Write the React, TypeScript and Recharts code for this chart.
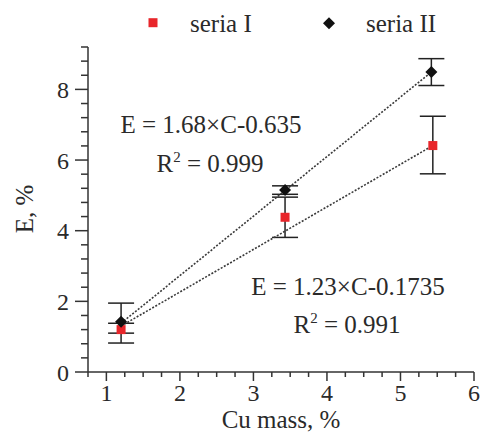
import React from 'react';
import { ScatterChart, Scatter, XAxis, YAxis, ErrorBar, Customized } from 'recharts';

// ---- data ----
const seriesI = [
  { x: 1.2, y: 1.2, err: [0.1, 0.18] },
  { x: 3.43, y: 4.38, err: [0.57, 0.57] },
  { x: 5.44, y: 6.41, err: [0.8, 0.83] },
];
const seriesII = [
  { x: 1.2, y: 1.42, err: [0.6, 0.53] },
  { x: 3.43, y: 5.15, err: [0.12, 0.12] },
  { x: 5.42, y: 8.49, err: [0.38, 0.38] },
];
const trendI = [
  { x: 1.2, y: 1.3 },
  { x: 5.44, y: 6.41 },
];
const trendII = [
  { x: 1.2, y: 1.38 },
  { x: 5.42, y: 8.49 },
];
const xTicks = [0.75, 1, 1.25, 1.5, 1.75, 2, 2.25, 2.5, 2.75, 3, 3.25, 3.5, 3.75, 4, 4.25, 4.5, 4.75, 5, 5.25, 5.5, 5.75, 6];
const xMajor = [1, 2, 3, 4, 5, 6];
const yTicks = [0, 0.4, 0.8, 1.2, 1.6, 2, 2.4, 2.8, 3.2, 3.6, 4, 4.4, 4.8, 5.2, 5.6, 6, 6.4, 6.8, 7.2, 7.6, 8, 8.4, 8.8, 9.2];
const yMajor = [0, 2, 4, 6, 8];
const legendNames = ['seria I', 'seria II'];
const fitI = ['E = 1.23×C-0.1735', '0.991'];
const fitII = ['E = 1.68×C-0.635', '0.999'];
const xTitle = 'Cu mass, %';
const yTitle = 'E, %';

const FONT = "'Liberation Serif'";
const TXT: React.CSSProperties = { fontFamily: FONT };
const INK = '#2a2a2a';
const AXIS = '#333';
const RED = '#e8262b';

const isIn = (arr: number[], v: number) => arr.some((a) => Math.abs(a - v) < 1e-6);

const XTickBottom = (props: any) => {
  const { x, y, payload } = props;
  const major = isIn(xMajor, payload.value);
  return (
    <g>
      <line x1={x} x2={x} y1={y} y2={y + (major ? 9 : 5)} stroke={AXIS} strokeWidth={1.5} />
      {major && (
        <text x={x} y={y + 29} textAnchor="middle" style={TXT} fontSize={24} fill={INK}>
          {payload.value}
        </text>
      )}
    </g>
  );
};
const XTickTop = (props: any) => {
  const { x, y, payload } = props;
  const major = isIn(xMajor, payload.value);
  return <line x1={x} x2={x} y1={y} y2={y + (major ? 8 : 5)} stroke={AXIS} strokeWidth={1.5} />;
};
const YTickLeft = (props: any) => {
  const { x, y, payload } = props;
  const major = isIn(yMajor, payload.value);
  return (
    <g>
      <line x1={x} x2={x - (major ? 13 : 7)} y1={y} y2={y} stroke={AXIS} strokeWidth={1.5} />
      {major && (
        <text x={x - 19} y={y + 8.5} textAnchor="end" style={TXT} fontSize={24} fill={INK}>
          {payload.value}
        </text>
      )}
    </g>
  );
};
const YTickRight = (props: any) => {
  const { x, y, payload } = props;
  const major = isIn(yMajor, payload.value);
  return <line x1={x} x2={x - (major ? 8 : 5)} y1={y} y2={y} stroke={AXIS} strokeWidth={1.5} />;
};

const Square = (props: any) => {
  const { cx, cy } = props;
  if (cx == null || cy == null) return <g />;
  return <rect x={cx - 4.5} y={cy - 4.5} width={9} height={9} fill={RED} />;
};
const Diamond = (props: any) => {
  const { cx, cy } = props;
  if (cx == null || cy == null) return <g />;
  const r = 6;
  return <polygon points={`${cx},${cy - r} ${cx + r},${cy} ${cx},${cy + r} ${cx - r},${cy}`} fill="#111" />;
};
const NoDot = () => <g />;

const Texts = () => (
  <g fill={INK}>
    {/* legend */}
    <rect x={148.5} y={18.2} width={9} height={9} fill={RED} />
    <text x={190} y={31.7} fontSize={25} style={TXT}>{legendNames[0]}</text>
    <polygon points="329,17.3 335,23.3 329,29.3 323,23.3" fill="#111" />
    <text x={366} y={31.7} fontSize={25} style={TXT}>{legendNames[1]}</text>
    {/* fit annotations */}
    <text x={211} y={133} fontSize={25} textAnchor="middle" style={TXT}>{fitII[0]}</text>
    <text x={210} y={171.5} fontSize={25} textAnchor="middle" style={TXT}>
      R<tspan dy={-10} fontSize={15}>2</tspan>
      <tspan dy={10}> = {fitII[1]}</tspan>
    </text>
    <text x={348} y={295} fontSize={25} textAnchor="middle" style={TXT}>{fitI[0]}</text>
    <text x={347} y={333} fontSize={25} textAnchor="middle" style={TXT}>
      R<tspan dy={-10} fontSize={15}>2</tspan>
      <tspan dy={10}> = {fitI[1]}</tspan>
    </text>
    {/* axis titles */}
    <text x={281} y={428} fontSize={25} textAnchor="middle" style={TXT}>{xTitle}</text>
    <text x={33} y={209} fontSize={25} textAnchor="middle" transform="rotate(-90 33 209)" style={TXT}>
      {yTitle}
    </text>
  </g>
);

const lineStyle = { stroke: '#3a3a3a', strokeWidth: 1.6, strokeDasharray: '2 1.6' };

export default function App() {
  return (
    <div style={{ position: 'absolute', left: 0, top: 0, background: '#fff', fontFamily: FONT }}>
      <ScatterChart width={483} height={435} margin={{ top: 47, right: 9, bottom: 0, left: 0 }} style={{ fontFamily: FONT }}>
        <XAxis
          xAxisId="b"
          type="number"
          dataKey="x"
          domain={[0.75, 6]}
          allowDataOverflow
          ticks={xTicks}
          interval={0}
          height={63}
          tickSize={0}
          tickMargin={0}
          tickLine={false}
          tick={<XTickBottom />}
          axisLine={{ stroke: AXIS, strokeWidth: 1.5 }}
        />
        <XAxis
          xAxisId="t"
          orientation="top"
          type="number"
          dataKey="x"
          domain={[0.75, 6]}
          allowDataOverflow
          ticks={xTicks}
          interval={0}
          height={0}
          tickSize={0}
          tickMargin={0}
          tickLine={false}
          tick={<XTickTop />}
          axisLine={{ stroke: AXIS, strokeWidth: 1.5 }}
        />
        <YAxis
          yAxisId="l"
          type="number"
          dataKey="y"
          domain={[0, 9.2]}
          allowDataOverflow
          ticks={yTicks}
          interval={0}
          width={88}
          tickSize={0}
          tickMargin={0}
          tickLine={false}
          tick={<YTickLeft />}
          axisLine={{ stroke: AXIS, strokeWidth: 1.5 }}
        />
        <YAxis
          yAxisId="r"
          orientation="right"
          type="number"
          dataKey="y"
          domain={[0, 9.2]}
          allowDataOverflow
          ticks={yTicks}
          interval={0}
          width={0}
          tickSize={0}
          tickMargin={0}
          tickLine={false}
          tick={<YTickRight />}
          axisLine={{ stroke: AXIS, strokeWidth: 1.5 }}
        />
        <Scatter xAxisId="b" yAxisId="l" data={trendII} line={lineStyle} shape={NoDot} isAnimationActive={false} legendType="none" />
        <Scatter xAxisId="b" yAxisId="l" data={trendI} line={lineStyle} shape={NoDot} isAnimationActive={false} legendType="none" />
        <Scatter xAxisId="b" yAxisId="l" data={seriesI} shape={Square} isAnimationActive={false}>
          <ErrorBar dataKey="err" direction="y" width={13} stroke="#222" strokeWidth={1.5} isAnimationActive={false} />
        </Scatter>
        <Scatter xAxisId="b" yAxisId="l" data={seriesII} shape={Diamond} isAnimationActive={false}>
          <ErrorBar dataKey="err" direction="y" width={13} stroke="#222" strokeWidth={1.5} isAnimationActive={false} />
        </Scatter>
        <Customized component={Texts} />
      </ScatterChart>
    </div>
  );
}
